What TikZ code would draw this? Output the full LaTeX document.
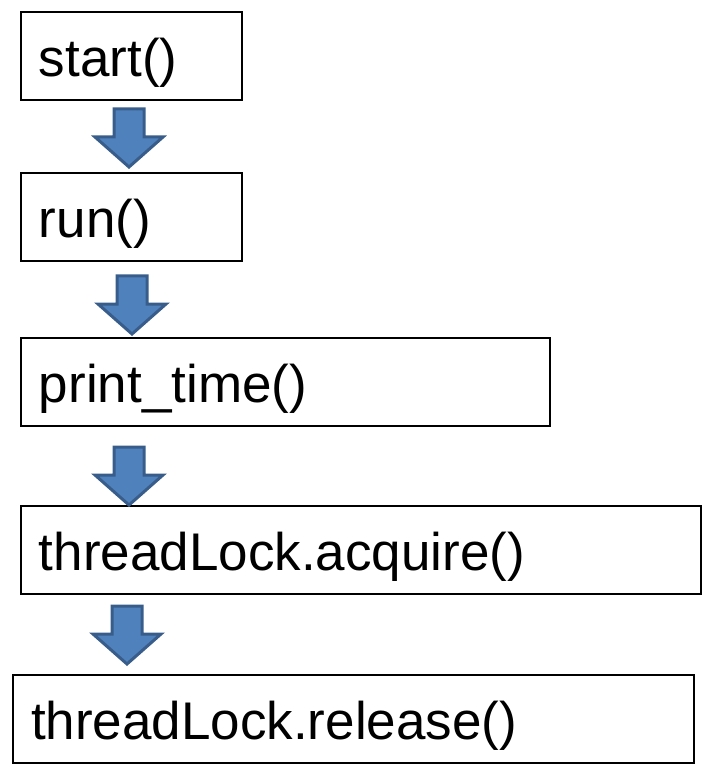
\documentclass[tikz,border=0pt]{standalone}
\usepackage{fontspec}
\setmainfont{Liberation Sans}
\definecolor{arrowblue}{HTML}{4F81BD}
\definecolor{arrowedge}{HTML}{385D8A}
\tikzset{
  box/.style={draw, line width=1pt, anchor=north west, minimum height=44pt,
    inner xsep=9pt, text width=#1, align=left, text height=26pt, text depth=5.6pt,
    font=\fontsize{26.5}{30}\selectfont},
  flowarrow/.style={fill=arrowblue, draw=arrowedge, line width=1.5pt, line join=miter}
}
% block arrow pointing down, #1 = top centre
\newcommand{\blockarrow}[1]{\draw[flowarrow] (#1) ++(-15,0) -- ++(30,0) -- ++(0,28) -- ++(19,0) -- ++(-34,30) -- ++(-34,-30) -- ++(19,0) -- cycle;}
\begin{document}
\begin{tikzpicture}[x=0.5pt,y=-0.5pt]
\useasboundingbox (0,0) rectangle (703,764);
\node[box=92.5pt] (start) at (20,11) {start()};
\node[box=92.5pt] (run) at (20,172) {run()};
\node[box=246.5pt] (print) at (20,337) {print\_time()};
\node[box=322pt] (acquire) at (20,505) {threadLock.acquire()};
\node[box=322.5pt] (release) at (12,674) {threadLock.release()};
\coordinate (a1) at (129,109);
\coordinate (a2) at (132,276);
\coordinate (a3) at (129,447);
\coordinate (a4) at (127,606);
\blockarrow{a1}
\blockarrow{a2}
\blockarrow{a3}
\blockarrow{a4}
\end{tikzpicture}
\end{document}
